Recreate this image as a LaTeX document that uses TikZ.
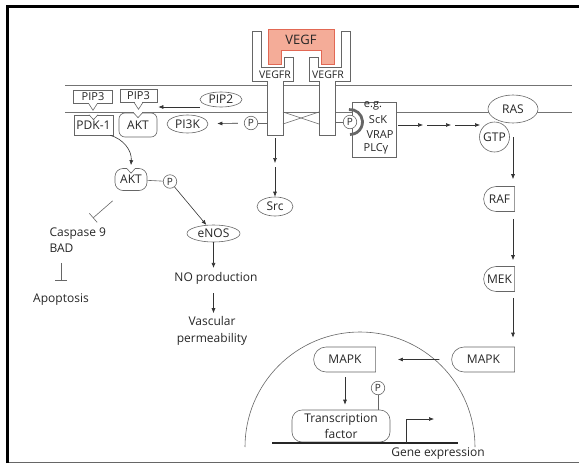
\documentclass[tikz,border=0pt]{standalone}
\usepackage{fontspec}
\setmainfont{Open Sans}
\usetikzlibrary{shapes,arrows.meta,calc}
\definecolor{vegffill}{RGB}{244,172,152}
\definecolor{vegfline}{RGB}{226,104,84}
% dent on top of a docking box
\newcommand{\notchtop}[1]{
  \draw[white, line width=1.8pt] ([xshift=-3.8pt]#1.north) -- ([xshift=3.8pt]#1.north);
  \draw[outl] ([xshift=-4.5pt]#1.north) -- ([yshift=-5pt]#1.north) -- ([xshift=4.5pt]#1.north);
}
% tail under a lipid box
\newcommand{\tailbottom}[1]{
  \draw[white, line width=1.8pt] ([xshift=-3.8pt]#1.south) -- ([xshift=3.8pt]#1.south);
  \draw[outl] ([xshift=-4.5pt]#1.south) -- ([yshift=-7pt]#1.south) -- ([xshift=4.5pt]#1.south);
}

\begin{document}
\begin{tikzpicture}[x=1pt, y=-1pt,
  every node/.style={text=black!85, font=\fontsize{12}{14}\selectfont},
  outl/.style={draw=black!60, line width=0.6pt},
  memb/.style={draw=black!55, line width=0.6pt},
  mol/.style={ellipse, outl, fill=white, inner sep=0pt},
  pho/.style={circle, outl, fill=white, inner sep=0pt, minimum size=13.5pt, font=\fontsize{10}{10}\selectfont},
  kin/.style={rounded rectangle, rounded rectangle right arc=none, outl, fill=white, minimum height=25pt, inner sep=2pt},
  lipid/.style={outl, fill=white, minimum height=13pt, inner sep=0pt, font=\fontsize{11}{12}\selectfont},
  small/.style={font=\fontsize{11}{12}\selectfont},
  two/.style={align=center, font=\fontsize{12}{16.5}\selectfont},
  arr/.style={-{Latex[length=5pt,width=4pt]}, draw=black!80, line width=0.6pt},
  inh/.style={-{Bar[width=12pt]}, draw=black!60, line width=0.6pt}]
\useasboundingbox (0,0) rectangle (579,464);

% frame
\draw[black!60, line width=1pt] (7.5,462) -- (579,462);
\draw[line width=3pt] (7.5,463) -- (7.5,6) -- (579,6);

% membrane
\draw[memb] (65,85) -- (572,85);
\draw[memb] (65,112) -- (572,112);

% receptors and ligand
\draw[outl, fill=white] (252,31) -- (261,31) -- (261,67) -- (284,67) -- (284,57) -- (293,57) -- (293,81) -- (283,81) -- (283,135) -- (267,135) -- (267,81) -- (252,81) -- cycle;
\draw[outl, fill=white] (350,31) -- (341,31) -- (341,67) -- (318,67) -- (318,57) -- (309,57) -- (309,81) -- (319,81) -- (319,135) -- (335,135) -- (335,81) -- (350,81) -- cycle;
\draw[draw=vegfline, fill=vegffill, line width=0.6pt] (268,29) -- (334,29) -- (334,64) -- (321,64) -- (321,50) -- (281,50) -- (281,64) -- (268,64) -- cycle;
\node[font=\fontsize{13}{14}\selectfont] (vegf) at (301,40) {VEGF};
\node[font=\fontsize{10.5}{11}\selectfont] (vegfrl) at (275,75) {VEGFR};
\node[font=\fontsize{10.5}{11}\selectfont] (vegfrr) at (328,75) {VEGFR};
\draw[outl] (283,112) -- (319,124);
\draw[outl] (283,124) -- (319,112);

% adaptor box
\node[outl, fill=white, minimum width=44pt, minimum height=55pt, inner sep=0pt] (egbox) at (374,129.5) {};
\node[small] (eg) at (373,106) {e.g.};
\node[small] (sck) at (378,120) {ScK};
\node[small] (vrap) at (380,135) {VRAP};
\node[small] (plc) at (376,149) {PLCγ};

% phosphates on the receptors
\coordinate (tml) at (267,123);
\coordinate (tmr) at (335,122);
\node[pho] (pl) at (251,123) {P};
\draw[outl] (pl) -- (tml);
\draw[outl] (tmr) -- (350,122);
\node[pho] (pr) at (350,122) {P};
\draw[black!60, line width=2.8pt] ([shift={(-95:12.5)}]pr.center) arc[start angle=-95, end angle=90, radius=12.5];

% PI3K branch
\node[mol, minimum width=41pt, minimum height=18pt] (pi3k) at (187.5,124) {PI3K};
\node[mol, minimum width=42pt, minimum height=15pt] (pip2) at (221,99.5) {PIP2};
\node[lipid, minimum width=39pt] (pip3a) at (93,96.5) {PIP3};
\node[lipid, minimum width=37pt] (pip3b) at (138.5,95.5) {PIP3};
\tailbottom{pip3a}
\tailbottom{pip3b}
\node[outl, fill=white, minimum width=39pt, minimum height=20pt, inner sep=0pt] (pdk) at (93.5,125) {PDK-1};
\node[outl, fill=white, rounded corners=6pt, minimum width=38pt, minimum height=24pt, inner sep=0pt] (akt1) at (138,125) {AKT};
\notchtop{pdk}
\notchtop{akt1}
\draw[arr, shorten <=6pt, shorten >=9pt] (pl) -- (pi3k);
\coordinate (pip2out) at (200,107);
\draw[arr, shorten >=1pt] (pip2out) -- (pip2out -| pip3b.east);

\node[outl, fill=white, rounded corners=8pt, minimum width=32pt, minimum height=22pt, inner sep=0pt] (akt2) at (131,179.5) {AKT};
\notchtop{akt2}
\node[pho] (pakt) at (170,181.5) {P};
\draw[outl] (akt2) -- (pakt);
\draw[arr] ([xshift=-3pt]pdk.south east) .. controls (123,139) and (132,150) .. ([yshift=3pt]akt2.north);

\node[align=left, anchor=west, font=\fontsize{12}{16}\selectfont] (casp) at (46,240) {Caspase 9\\BAD};
\node (apop) at (61,300) {Apoptosis};
\coordinate (inhend) at (93,218);
\draw[inh] ($(akt2.south west)+(-2,10)$) -- (inhend);
\draw[inh, shorten <=7pt, shorten >=10pt] (apop.north |- casp.south) -- (apop.north);

\node[mol, minimum width=53pt, minimum height=17pt] (enos) at (213.5,233.5) {eNOS};
\node (noprod) at (216,278.5) {NO production};
\node[two] (vasc) at (212,331) {Vascular\\permeability};
\draw[arr] (pakt) -- (enos);
\draw[arr, shorten >=1pt] (enos.south) -- (enos.south |- noprod.north);
\draw[arr, shorten <=5pt] (noprod.south -| enos) -- (enos |- vasc.north);

% Src
\node[mol, minimum width=36pt, minimum height=19pt] (src) at (275,206.5) {Src};
\coordinate (tmlb) at (275,135);
\coordinate (srcmid) at (275,165);
\draw[arr, shorten <=3pt, shorten >=2pt] (tmlb) -- (srcmid);
\draw[arr, shorten <=2pt] (srcmid) -- (src);

% RAS / MAPK cascade
\foreach \i/\xa/\xb in {1/398/423, 2/427/451, 3/455/480} {
  \coordinate (cha\i) at (\xa,125);
  \coordinate (chb\i) at (\xb,125);
  \draw[arr] (cha\i) -- (chb\i);
}
\node[mol, minimum width=50pt, minimum height=28pt] (ras) at (513,109) {RAS};
\node[circle, outl, minimum size=30pt, inner sep=0pt] (gtp) at (494.5,137) {GTP};
\node[kin, minimum width=35pt] (raf) at (499.5,199) {RAF};
\node[kin, minimum width=35pt] (mek) at (499.5,279) {MEK};
\node[kin, minimum width=67pt] (mapkout) at (483.5,359.5) {MAPK};
\coordinate (colx) at (513,0);
\draw[arr, shorten >=7pt] (gtp.east -| colx) -- (raf.north -| colx);
\draw[arr, shorten <=7pt, shorten >=6pt] (raf.south -| colx) -- (mek.north -| colx);
\draw[arr, shorten <=6pt, shorten >=9pt] (mek.south -| colx) -- (mapkout.north -| colx);

% nucleus
\draw[outl] (245,447) arc[start angle=180, end angle=360, radius=115];
\node[kin, minimum width=66pt] (mapkin) at (345,359.5) {MAPK};
\draw[arr, shorten <=12pt, shorten >=22pt] (mapkout) -- (mapkin);
\node[outl, fill=white, rounded corners=10pt, minimum width=98pt, minimum height=32pt, inner sep=1pt, two] (tf) at (341,426) {Transcription\\factor};
\node[pho] (ptf) at (378,388) {P};
\draw[outl] (ptf) -- (ptf |- tf.north);
\draw[arr, shorten <=5pt, shorten >=5pt] (mapkin.south) -- (mapkin.south |- tf.north);
\draw[line width=2pt, black!85] (272,443) -- (458,443);
\coordinate (tss) at (406,443);
\coordinate (tssend) at (434,419);
\draw[arr] (tss) |- (tssend);
\node (gene) at (438,453.5) {Gene expression};
\end{tikzpicture}
\end{document}
